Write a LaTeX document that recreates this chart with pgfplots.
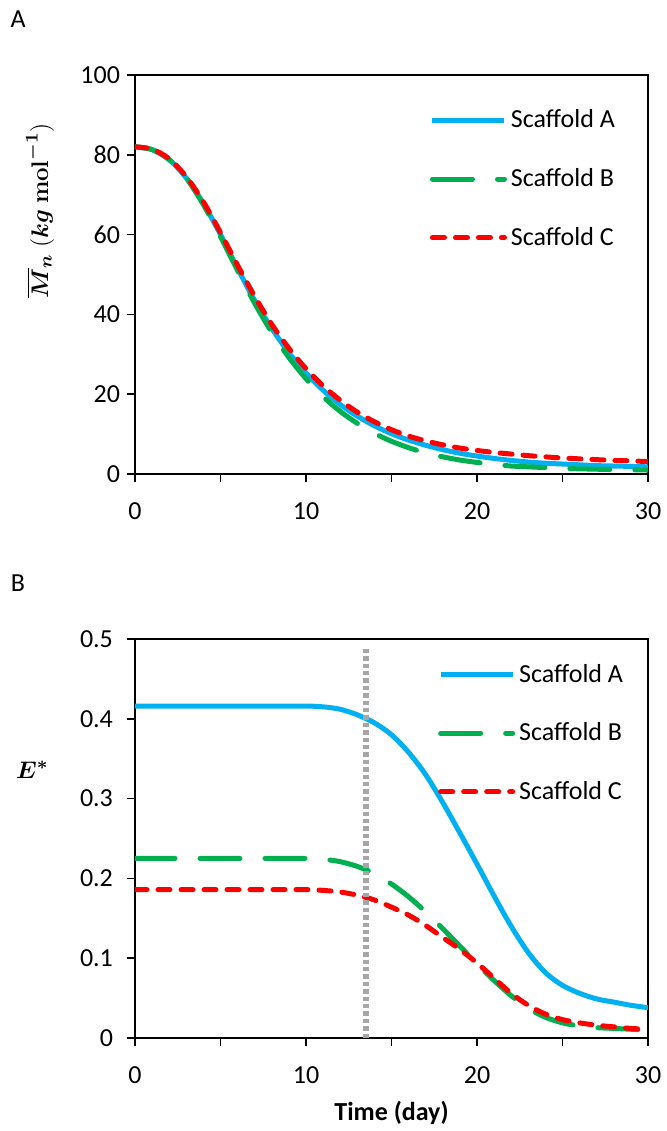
\documentclass[border=0pt]{standalone}
\usepackage[no-math]{fontspec}
\setmainfont{Carlito}
\usepackage{amsmath}
\usepackage{pgfplots}
\pgfplotsset{compat=1.18}

\definecolor{scA}{HTML}{00B0F0}
\definecolor{scB}{HTML}{00B050}
\definecolor{scC}{HTML}{FF0000}
\definecolor{vgray}{HTML}{A6A6A6}

\pgfplotsset{
  panel/.style={
    scale only axis, width=256.5pt, height=199.5pt,
    xmin=0, xmax=30, xtick={0,10,20,30}, minor xtick={5,15,25},
    tick align=outside, xtick pos=bottom, ytick pos=left,
    major tick length=4pt, minor tick length=4pt,
    axis line style={line width=0.75pt},
    tick style={black, line width=0.75pt},
    xticklabel style={yshift=-7pt},
    /pgf/number format/assume math mode=true,
    legend cell align=left,
    legend style={draw=none, fill=none, inner sep=0pt, outer sep=0pt,
      anchor=north west, row sep=14.75pt, column sep=0pt},
    title style={anchor=center},
  },
}

\begin{document}
\begin{tikzpicture}[font=\fontsize{13}{15.6}\selectfont]
\useasboundingbox (0,0) rectangle (333pt,-565.5pt);

% panel A: number-average molar mass
\begin{axis}[panel, at={(67.5pt,-237pt)}, anchor=south west,
  ymin=0, ymax=100, ytick={0,20,...,100},
  ylabel={$\boldsymbol{\overline{M}_{n}}\ (\boldsymbol{kg}\ \mathbf{mol}^{\boldsymbol{-1}})$},
  ylabel style={at={(axis description cs:-0.185,0.66)}, anchor=center},
  title={A}, title style={at={(axis description cs:-0.228,1.11)}},
  legend image code/.code={\draw[mark repeat=2,mark phase=2,#1] plot coordinates {(0pt,0pt)(18pt,0pt)(36pt,0pt)};},
  legend style={at={(axis description cs:0.575,0.9225)}}]
\addplot[scA, line width=2.5pt, smooth] coordinates {(0,82)(1,81.3)(2,78.8)(3,74.2)(4,67.8)(5,60)(6,51.5)(7,43.5)(8,36.5)(9,30.4)(10,25.3)(11,21)(12,17.4)(13,14.5)(14,12.1)(15,10.1)(16,8.5)(17,7.2)(18,6.1)(19,5.2)(20,4.5)(21,3.9)(22,3.4)(23,3.0)(24,2.7)(25,2.5)(26,2.3)(27,2.1)(28,2.0)(29,1.9)(30,1.8)};
\addplot[scB, line width=2.5pt, line cap=round, dash pattern=on 20pt off 12.5pt, smooth] coordinates {(0,82)(1,81.3)(2,78.8)(3,74.2)(4,67.5)(5,59.5)(6,51)(7,42.8)(8,35.5)(9,29.2)(10,23.9)(11,19.4)(12,15.7)(13,12.7)(14,10.2)(15,8.2)(16,6.6)(17,5.3)(18,4.3)(19,3.5)(20,2.9)(21,2.4)(22,2.0)(23,1.8)(24,1.6)(25,1.4)(26,1.3)(27,1.2)(28,1.1)(29,1.05)(30,1.0)};
\addplot[scC, line width=2.5pt, line cap=round, dash pattern=on 6pt off 5.5pt, smooth] coordinates {(0,82)(1,81.4)(2,79)(3,74.5)(4,68.2)(5,60.5)(6,52.3)(7,44.5)(8,37.5)(9,31.5)(10,26.4)(11,22.1)(12,18.5)(13,15.5)(14,13.1)(15,11.1)(16,9.5)(17,8.3)(18,7.3)(19,6.5)(20,5.9)(21,5.4)(22,5.0)(23,4.6)(24,4.3)(25,4.0)(26,3.8)(27,3.6)(28,3.4)(29,3.3)(30,3.1)};
\legend{Scaffold A,Scaffold B,Scaffold C}
\end{axis}

% panel B: normalised modulus
\begin{axis}[panel, at={(67.5pt,-519pt)}, anchor=south west,
  ymin=0, ymax=0.5, ytick={0,0.1,0.2,0.3,0.4,0.5},
  yticklabel style={/pgf/number format/fixed, xshift=-3.5pt},
  ylabel={$\boldsymbol{E^{*}}$},
  ylabel style={at={(axis description cs:-0.2,0.673)}, anchor=center, rotate=-90},
  xlabel={\textbf{Time (day)}},
  xlabel style={at={(axis description cs:0.5,-0.188)}, anchor=center},
  title={B}, title style={at={(axis description cs:-0.228,1.11)}},
  legend image code/.code={\draw[mark repeat=2,mark phase=2,#1] plot coordinates {(0pt,0pt)(18pt,0pt)(36pt,0pt)};},
  legend style={at={(axis description cs:0.591,0.947)}}]
\addplot[scA, line width=2.5pt, smooth] coordinates {(0,.416)(2,.416)(4,.416)(6,.416)(8,.416)(10,.416)(11,.415)(12,.412)(13,.405)(14,.395)(15,.380)(16,.358)(17,.330)(18,.295)(19,.257)(20,.218)(21,.178)(22,.140)(23,.107)(24,.082)(25,.066)(26,.056)(27,.049)(28,.045)(29,.041)(30,.038)};
\addplot[scB, line width=2.5pt, line cap=round, dash pattern=on 20pt off 12.5pt, smooth] coordinates {(0,.225)(2,.225)(4,.225)(6,.225)(8,.225)(10,.225)(11,.224)(12,.221)(13,.215)(14,.206)(15,.193)(16,.177)(17,.158)(18,.137)(19,.115)(20,.093)(21,.072)(22,.053)(23,.037)(24,.026)(25,.019)(26,.015)(27,.013)(28,.012)(29,.011)(30,.010)};
\addplot[scC, line width=2.5pt, line cap=round, dash pattern=on 6pt off 5.5pt, smooth] coordinates {(0,.186)(2,.186)(4,.186)(6,.186)(8,.186)(10,.186)(11,.185)(12,.183)(13,.179)(14,.173)(15,.164)(16,.154)(17,.141)(18,.126)(19,.111)(20,.094)(21,.075)(22,.056)(23,.041)(24,.030)(25,.023)(26,.019)(27,.016)(28,.014)(29,.012)(30,.011)};
\addplot[vgray, line width=3pt, dash pattern=on 2.2pt off 1.5pt, forget plot] coordinates {(13.5,0)(13.5,0.49)};
\legend{Scaffold A,Scaffold B,Scaffold C}
\end{axis}
\end{tikzpicture}
\end{document}
